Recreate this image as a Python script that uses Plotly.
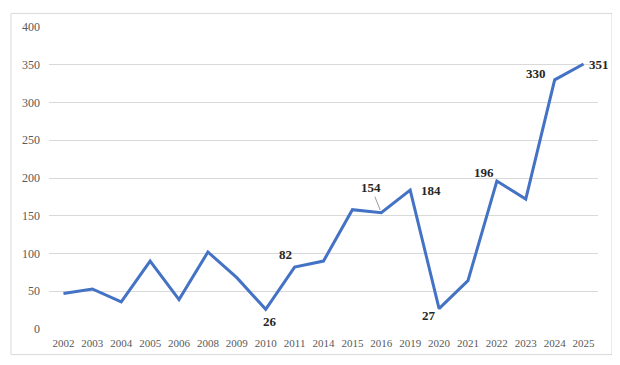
import plotly.graph_objects as go

years = ["2002", "2003", "2004", "2005", "2006", "2008", "2009", "2010", "2011", "2014",
         "2015", "2016", "2019", "2020", "2021", "2022", "2023", "2024", "2025"]
counts = [47, 53, 36, 90, 39, 102, 68, 26, 82, 90, 158, 154, 184, 27, 64, 196, 172, 330, 351]

# labelled points: year -> (xshift, yshift)
label_years = ["2010", "2011", "2019", "2020", "2022", "2024", "2025"]
label_shifts = [(4, -12), (-9, 13), (21, 0), (-10, -7), (-13, 9), (-19, 6), (15, 0)]
leader_year = "2016"

y_ticks = [0, 50, 100, 150, 200, 250, 300, 350, 400]

FONT = "Liberation Serif"
LINE_COLOR = "#4472C4"

fig = go.Figure()
fig.add_trace(go.Scatter(
    x=years, y=counts, mode="lines",
    line=dict(color=LINE_COLOR, width=3),
    hoverinfo="x+y", showlegend=False,
))

for yr, (dx, dy) in zip(label_years, label_shifts):
    i = years.index(yr)
    v = counts[i]
    fig.add_annotation(
        x=i, y=v, xref="x", yref="y", text="<b>" + str(v) + "</b>", showarrow=False,
        xshift=dx, yshift=dy, font=dict(family=FONT, size=13, color="#262626"),
    )
li = years.index(leader_year)
lv = counts[li]
fig.add_annotation(
    x=li, y=lv, xref="x", yref="y", text="<b>" + str(lv) + "</b>", showarrow=True,
    arrowhead=0, arrowwidth=0.8, arrowcolor="#7f7f7f", ax=-10, ay=-25, standoff=3,
    font=dict(family=FONT, size=13, color="#262626"),
)

fig.add_shape(type="rect", xref="paper", yref="paper",
              x0=-0.0692, x1=1.0255, y0=-0.0847, y1=1.045,
              line=dict(color="#d9d9d9", width=1), layer="below")

fig.update_layout(
    width=612, height=357,
    margin=dict(l=41, r=22, t=14, b=36),
    paper_bgcolor="white", plot_bgcolor="white",
    font=dict(family=FONT, size=11, color="#595959"),
    xaxis=dict(
        type="category", range=[-0.5, len(years) - 0.5],
        showgrid=False, showline=False, zeroline=False,
        ticks="", tickfont=dict(family=FONT, size=11, color="#595959"),
        ticklabelstandoff=6,
    ),
    yaxis=dict(
        range=[0, 400], tickvals=y_ticks,
        showgrid=True, gridcolor="#d9d9d9", gridwidth=1,
        zeroline=False, showline=False, ticks="",
        tickfont=dict(family=FONT, size=12, color="#595959"),
        ticklabelstandoff=8,
    ),
)

fig.write_html("out.html")
